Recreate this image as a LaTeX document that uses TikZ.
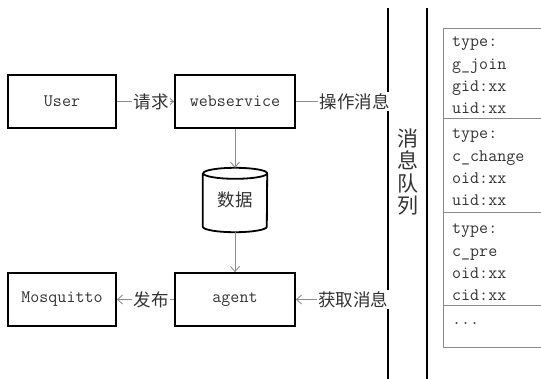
\documentclass[tikz,border=0pt]{standalone}
\usepackage{fontspec}
\newfontfamily\cjk{Noto Sans CJK SC}
\usetikzlibrary{arrows.meta}
\definecolor{txt}{HTML}{333333}
\definecolor{arr}{HTML}{8C8C8C}
\definecolor{frm}{HTML}{8A8A8A}
\tikzset{
  box/.style={draw=black, line width=1.8pt, minimum width=108pt, minimum height=53pt, inner sep=0pt, text=txt, font=\ttfamily\fontsize{17.5}{18}\selectfont},
  wbox/.style={box, minimum width=120pt},
  conn/.style={draw=arr, line width=0.9pt, -{Straight Barb[length=5pt,width=9pt]}},
  lbl/.style={fill=white, inner sep=1.5pt, text=txt, font=\cjk\fontsize{17.5}{18}\selectfont},
  qline/.style={draw=black, line width=1.8pt},
  frame/.style={draw=frm, line width=0.8pt},
  msg/.style={anchor=north west, align=left, inner sep=0pt, text=txt, font=\ttfamily\fontsize{17.5}{22.3}\selectfont},
}
\begin{document}
\begin{tikzpicture}[x=1pt,y=-1pt]
\useasboundingbox (0,0) rectangle (541,378);
% queue lines
\coordinate (qtl) at (388,8);
\coordinate (qbl) at (388,380);
\coordinate (qtr) at (427,8);
\coordinate (qbr) at (427,380);
\draw[qline] (qtl) -- (qbl);
\draw[qline] (qtr) -- (qbr);
\node[text=txt, font=\cjk\fontsize{21}{22.5}\selectfont, align=center, inner sep=0pt] (q) at (407.5,172) {消\\息\\队\\列};
% message frames
\draw[frame] (443,28) rectangle (546,347);
\draw[frame] (443,118) -- (546,118);
\draw[frame] (443,212) -- (546,212);
\draw[frame] (443,305) -- (546,305);
\node[msg] (m1) at (452,37) {type:\\g\_join\\gid:xx\\uid:xx};
\node[msg] (m2) at (452,129) {type:\\c\_change\\oid:xx\\uid:xx};
\node[msg] (m3) at (452,224) {type:\\c\_pre\\oid:xx\\cid:xx};
\node[msg] (m4) at (452,322) {...};
% boxes
\node[box] (user) at (62,101.5) {User};
\node[wbox] (web) at (235,101.5) {webservice};
\node[wbox] (agent) at (235,299.5) {agent};
\node[box] (mosq) at (62,299.5) {Mosquitto};
\node[minimum width=64pt, minimum height=64pt, inner sep=0pt, text=txt, font=\cjk\fontsize{17.5}{18}\selectfont] (db) at (235,200) {数据};
\draw[draw=black, line width=1.8pt] ([yshift=-5.5pt]db.north west) -- ([yshift=5.5pt]db.south west)
  arc[start angle=180, end angle=360, x radius=32pt, y radius=5.5pt]
  -- ([yshift=-5.5pt]db.north east)
  arc[start angle=0, end angle=360, x radius=32pt, y radius=5.5pt];
\coordinate (qin) at (388,101.5);
\coordinate (qout) at (388,299.5);
% connectors
\draw[conn] (user) -- node[lbl, pos=0.6] {请求} (web);
\draw[conn] (web) -- node[lbl, pos=0.64] {操作消息} (qin);
\draw[conn] (web) -- (db);
\draw[conn] (db) -- (agent);
\draw[conn] (qout) -- node[lbl, pos=0.38] {获取消息} (agent);
\draw[conn] (agent) -- node[lbl, pos=0.4] {发布} (mosq);
\end{tikzpicture}
\end{document}
